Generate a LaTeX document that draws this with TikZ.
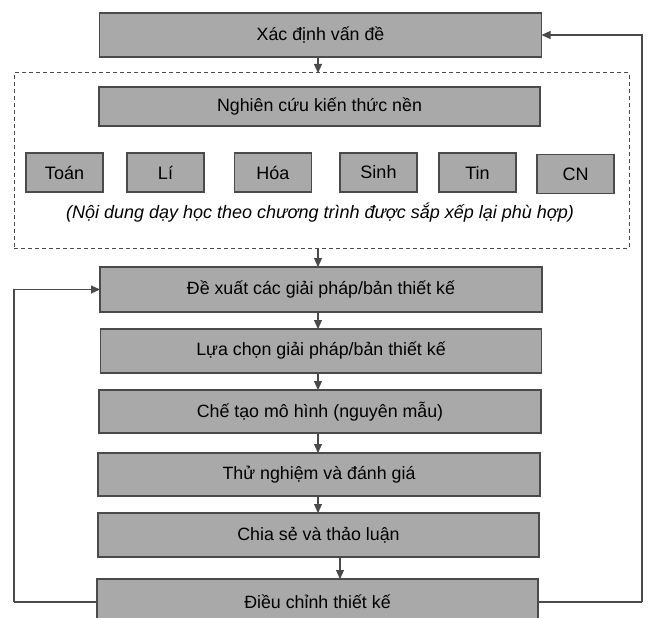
\documentclass[tikz,border=0pt]{standalone}
\usepackage{fontspec}
\setmainfont{Liberation Sans}
\usetikzlibrary{arrows.meta}
\definecolor{boxgray}{HTML}{A9A9A9}
\definecolor{edgegray}{HTML}{4A4A4A}
\tikzset{
  stepbox/.style={draw=edgegray, line width=1.2pt, fill=boxgray, inner sep=0pt, outer sep=0pt,
    minimum width=442pt, font=\fontsize{17.8}{20}\selectfont, text=black},
  subj/.style={draw=edgegray, line width=1.2pt, fill=boxgray, inner sep=0pt, outer sep=0pt,
    minimum width=77pt, minimum height=39pt, font=\fontsize{18}{20}\selectfont},
  arr/.style={draw=edgegray, line width=1.1pt, -{Triangle[length=9pt,width=8pt]}},
  loopline/.style={draw=edgegray, line width=1.1pt}
}
\begin{document}
\begin{tikzpicture}[x=1pt,y=-1pt]
\useasboundingbox (0,0) rectangle (648,618);
\fill[white] (0,0) rectangle (648,618);
% dashed group
\node[draw=edgegray, dashed, dash pattern=on 4pt off 3pt, line width=1pt, inner sep=0pt, outer sep=0pt,
  minimum width=615pt, minimum height=175pt] (grp) at (321.5,160.5) {};
% main steps
\node[stepbox, minimum height=44pt] (b1) at (320.5,35) {Xác định vấn đề};
\node[stepbox, minimum height=39pt, minimum width=441pt] (nc) at (319.5,106.5) {Nghiên cứu kiến thức nền};
\node[subj] (toan) at (64.5,172.5) {Toán};
\node[subj] (li) at (165.5,172.5) {Lí};
\node[subj] (hoa) at (273,172.5) {Hóa};
\node[subj] (sinh) at (378.5,172.5) {Sinh};
\node[subj] (tin) at (477.5,172.5) {Tin};
\node[subj] (cn) at (575.5,174) {CN};
\node[font=\fontsize{18}{20}\selectfont\itshape, inner sep=0pt] (nd) at (320,213)
  {(Nội dung dạy học theo chương trình được sắp xếp lại phù hợp)};
\node[stepbox, minimum height=45pt] (dx) at (321,289.5) {Đề xuất các giải pháp/bản thiết kế};
\node[stepbox, minimum height=44pt, minimum width=441pt] (lc) at (321,351) {Lựa chọn giải pháp/bản thiết kế};
\node[stepbox, minimum height=43pt] (ct) at (320,411.5) {Chế tạo mô hình (nguyên mẫu)};
\node[stepbox, minimum height=43pt] (tn) at (319,474.5) {Thử nghiệm và đánh giá};
\node[stepbox, minimum height=44pt, minimum width=441pt] (cs) at (318.5,535) {Chia sẻ và thảo luận};
\node[stepbox, minimum height=46pt, minimum width=441pt] (dc) at (317.5,602) {Điều chỉnh thiết kế};
% arrow columns
\coordinate (ax) at (318,0);
\coordinate (ax2) at (340,0);
\draw[arr] (b1.south -| ax) -- (grp.north -| ax);
\draw[arr] (grp.south -| ax) -- (dx.north -| ax);
\draw[arr] (dx.south -| ax) -- (lc.north -| ax);
\draw[arr] (lc.south -| ax) -- (ct.north -| ax);
\draw[arr] (ct.south -| ax) -- (tn.north -| ax);
\draw[arr] (tn.south -| ax) -- (cs.north -| ax);
\draw[arr] (cs.south -| ax2) -- (dc.north -| ax2);
% feedback loops
\coordinate (lft) at (14,602);
\coordinate (rgt) at (642,602);
\draw[loopline] (dc.west) -- (lft);
\draw[arr] (lft) |- (dx.west);
\draw[loopline] (dc.east) -- (rgt);
\draw[arr] (rgt) |- (b1.east);
\end{tikzpicture}
\end{document}
